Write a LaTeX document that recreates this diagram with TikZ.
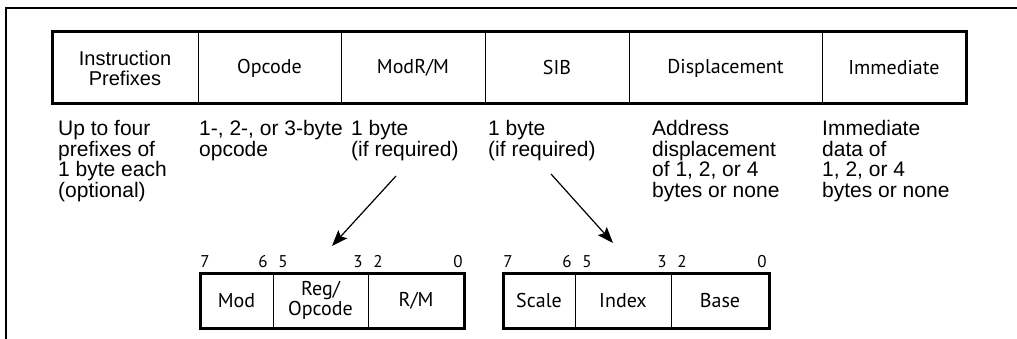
\documentclass[tikz,border=0pt]{standalone}
\usepackage{fontspec}
\setmainfont{Liberation Sans}
\newfontfamily\clearfont{PT Sans}
\usetikzlibrary{positioning,arrows.meta}

\begin{document}
\begin{tikzpicture}[x=1pt, y=-1pt,
	field/.style={draw, line width=1pt, inner sep=0pt, outer sep=0pt, minimum height=72pt, align=center, font=\clearfont\fontsize{20}{20}\selectfont},
	bitfield/.style={field, minimum height=55pt},
	note/.style={anchor=north west, inner sep=0pt, align=left, font=\fontsize{21}{20.7}\selectfont},
	bitnum/.style={anchor=base, inner sep=0pt, font=\clearfont\fontsize{17}{17}\selectfont},
	border/.style={line width=3pt},
	ptr/.style={line width=1.2pt, -{Stealth[length=16pt, width=12pt, inset=3pt]}}]
	\useasboundingbox (0,0) rectangle (1017,339);
	
	% page frame
	\draw[line width=2.5pt] (6,345) -- (6,8) -- (1025,8);
	
	% instruction format
	\node[field, minimum width=146pt, font=\fontsize{20}{20}\selectfont] (pfx) at (125,68) {Instruction\\Prefixes};
	\node[field, minimum width=143pt, right=0pt of pfx] (opc) {Opcode};
	\node[field, minimum width=144pt, right=0pt of opc] (modrm) {ModR/M};
	\node[field, minimum width=144pt, right=0pt of modrm] (sib) {SIB};
	\node[field, minimum width=193pt, right=0pt of sib] (disp) {Displacement};
	\node[field, minimum width=144pt, right=0pt of disp] (imm) {Immediate};
	\draw[border] (pfx.north west) rectangle (imm.south east);
	
	\node[note] (pfxnote) at (58,120) {Up to four\\prefixes of\\1 byte each\\(optional)};
	\node[note] (opcnote) at (199,120) {1-, 2-, or 3-byte\\opcode};
	\node[note] (modrmnote) at (351,120) {1 byte\\(if required)};
	\node[note] (sibnote) at (488,120) {1 byte\\(if required)};
	\node[note] (dispnote) at (652,120) {Address\\displacement\\of 1, 2, or 4\\bytes or none};
	\node[note] (immnote) at (822,120) {Immediate\\data of\\1, 2, or 4\\bytes or none};
	
	% ModR/M byte
	\node[bitfield, minimum width=73pt] (mod) at (236.5,300.5) {Mod};
	\node[bitfield, minimum width=95pt, right=0pt of mod] (reg) {Reg/\\Opcode};
	\node[bitfield, minimum width=96pt, right=0pt of reg] (rm) {R/M};
	\draw[border] (mod.north west) rectangle (rm.south east);
	
	% SIB byte
	\node[bitfield, minimum width=72pt] (scale) at (539,300.5) {Scale};
	\node[bitfield, minimum width=96pt, right=0pt of scale] (index) {Index};
	\node[bitfield, minimum width=98pt, right=0pt of index] (base) {Base};
	\draw[border] (scale.north west) rectangle (base.south east);
	
	\foreach \b/\x in {7/205, 6/263, 5/283, 3/358, 2/378, 0/458, 7/508, 6/567, 5/587, 3/662, 2/682, 0/762}
		\node[bitnum] (bit-\x) at (\x,267) {\b};
	
	\coordinate (modrmtail) at (396,176);
	\coordinate (modrmtip) at (332,246);
	\coordinate (sibtail) at (551,174);
	\coordinate (sibtip) at (613,243);
	\draw[ptr] (modrmtail) -- (modrmtip);
	\draw[ptr] (sibtail) -- (sibtip);
\end{tikzpicture}
\end{document}
